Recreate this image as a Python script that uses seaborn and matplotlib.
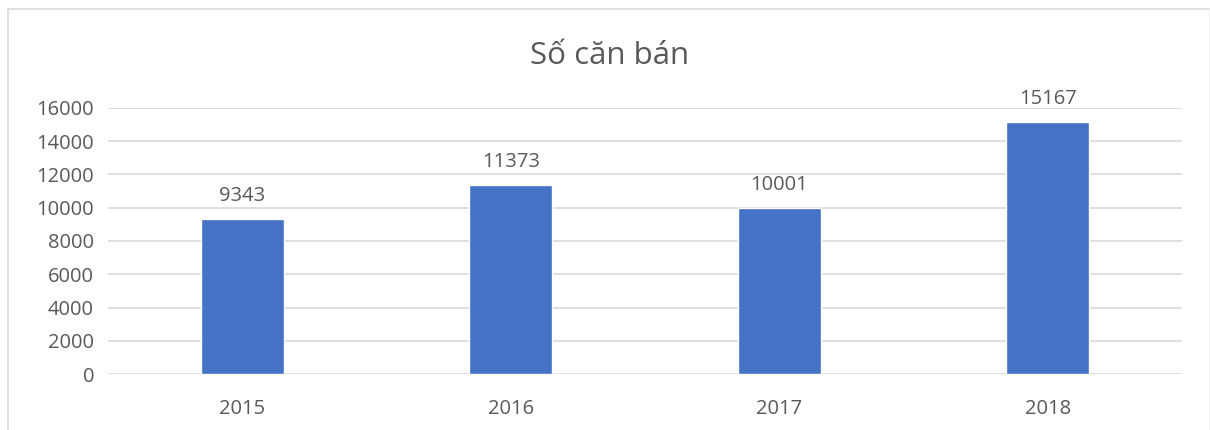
import matplotlib
matplotlib.use("Agg")
import matplotlib.pyplot as plt
import pandas as pd
import seaborn as sns
from matplotlib.lines import Line2D

years = ["2015", "2016", "2017", "2018"]
units_sold = [9343, 11373, 10001, 15167]
y_ticks = [0, 2000, 4000, 6000, 8000, 10000, 12000, 14000, 16000]
title = "Số căn bán"

BAR = "#4472C4"
TEXT = "#595959"
GRID = "#D9D9D9"

sns.set_theme(style="white")
plt.rcParams["font.family"] = ["Open Sans", "DejaVu Sans"]

df = pd.DataFrame({"year": years, "units": units_sold})

fig = plt.figure(figsize=(12.1, 4.3), dpi=100)
ax = fig.add_axes([108 / 1210, 1 - 374 / 430, 1074 / 1210, 266 / 430])

sns.barplot(data=df, x="year", y="units", color=BAR, width=0.31, saturation=1, ax=ax, zorder=3)

ax.set_ylim(0, 16000)
ax.set_yticks(y_ticks)
ax.set_xlim(-0.5, len(years) - 0.5)
ax.yaxis.grid(True, color=GRID, linewidth=1.2, zorder=0)
ax.set_axisbelow(True)
for s in ax.spines.values():
    s.set_visible(False)
ax.tick_params(axis="both", length=0, labelsize=14.5, labelcolor=TEXT)
ax.tick_params(axis="x", pad=18)
ax.tick_params(axis="y", pad=10)
ax.set_xlabel("")
ax.set_ylabel("")

for c in ax.containers:
    ax.bar_label(c, labels=[str(v) for v in units_sold], padding=9, fontsize=14.5, color=TEXT)

fig.text(0.504, 1 - 56 / 430, title, ha="center", va="center", fontsize=22.5, color=TEXT)

# chart frame
for xs, ys, col in [([8 / 1210, 8 / 1210], [0, 1 - 9 / 430], GRID),
                    ([8 / 1210, 1], [1 - 9 / 430, 1 - 9 / 430], GRID),
                    ([1209.5 / 1210, 1209.5 / 1210], [0, 1 - 9 / 430], "#EEEEEE")]:
    fig.add_artist(Line2D(xs, ys, transform=fig.transFigure, color=col, linewidth=1.2))

fig.savefig("out.png", dpi=100, facecolor="white")
